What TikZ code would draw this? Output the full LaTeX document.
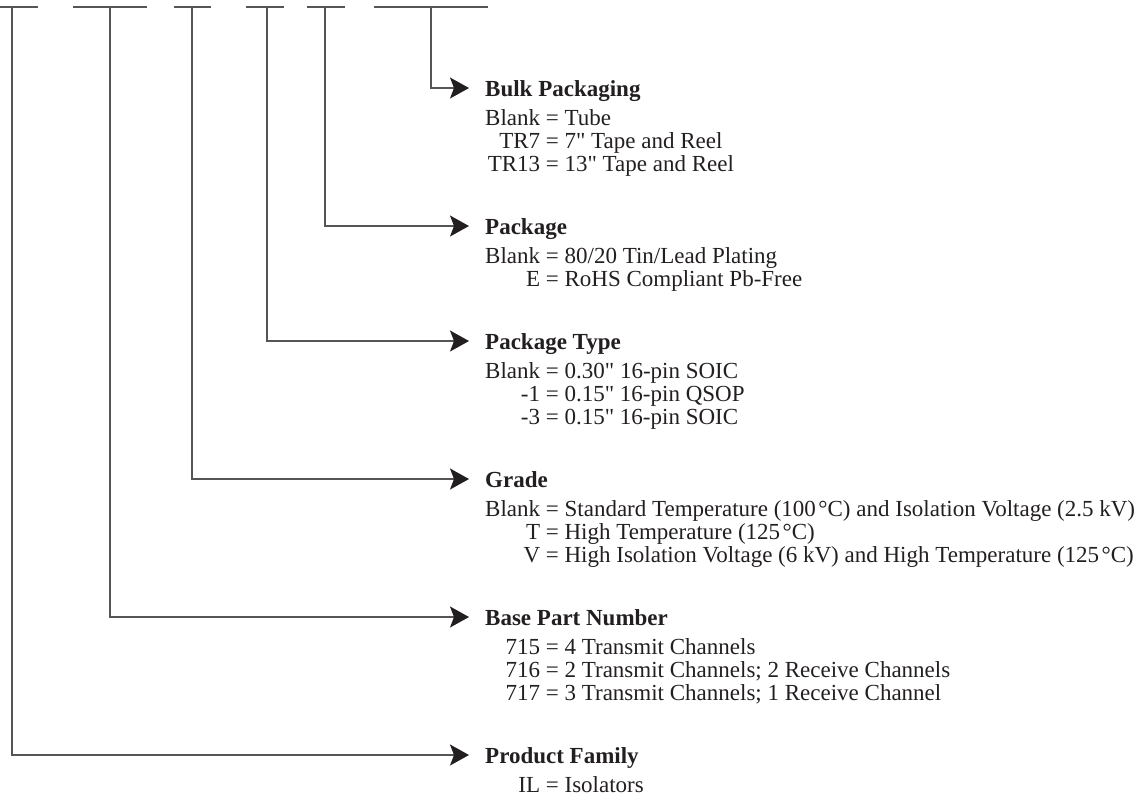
\documentclass[tikz,border=0pt]{standalone}
\usepackage{fontspec}
\setmainfont{Liberation Serif}
\usetikzlibrary{arrows.meta}
\definecolor{ink}{RGB}{35,31,32}
\definecolor{wire}{RGB}{85,85,85}
\newcommand\entry[2]{\hphantom{Blank}\llap{#1} = #2}
\newcommand\inch{\XeTeXglyph\XeTeXcharglyph"22\relax}
\newcommand\degC{\kern2.5pt°C}
\begin{document}
\begin{tikzpicture}[x=1pt,y=-1pt,
  conn/.style={draw=wire,line width=1.2pt,-{Stealth[length=19pt,width=21pt,inset=4pt,color=ink]}},
  bar/.style={draw=wire,line width=1.2pt},
  title/.style={anchor=base west,inner sep=0pt,text=ink,font=\fontsize{23}{23}\selectfont\bfseries},
  txt/.style={anchor=base west,inner sep=0pt,text=ink,font=\fontsize{23}{23}\selectfont}]
\useasboundingbox (0,0) rectangle (1147,796);
% top bars
\coordinate (b1l) at (0,7);   \coordinate (b1r) at (38,7);
\coordinate (b2l) at (73,7);  \coordinate (b2r) at (147,7);
\coordinate (b3l) at (174,7); \coordinate (b3r) at (211,7);
\coordinate (b4l) at (246,7); \coordinate (b4r) at (284,7);
\coordinate (b5l) at (307,7); \coordinate (b5r) at (345,7);
\coordinate (b6l) at (374,7); \coordinate (b6r) at (488,7);
\foreach \i in {1,...,6} {\draw[bar] (b\i l) -- (b\i r);}
\coordinate (v1) at (12,7);
\coordinate (v2) at (110,7);
\coordinate (v3) at (192,7);
\coordinate (v4) at (267,7);
\coordinate (v5) at (325,7);
\coordinate (v6) at (431,7);
% arrow tips
\coordinate (a6) at (469,88);
\coordinate (a5) at (469,226);
\coordinate (a4) at (469,341);
\coordinate (a3) at (469,479);
\coordinate (a2) at (469,617);
\coordinate (a1) at (469,755);
% groups
\node[title] (bulk) at (485,96) {Bulk Packaging};
\node[txt] (bulk1) at (485,125) {\entry{Blank}{Tube}};
\node[txt] (bulk2) at (485,148) {\entry{TR7}{7\inch{} Tape and Reel}};
\node[txt] (bulk3) at (485,171) {\entry{TR13}{13\inch{} Tape and Reel}};

\node[title] (pkg) at (485,234) {Package};
\node[txt] (pkg1) at (485,263) {\entry{Blank}{80/20 Tin/Lead Plating}};
\node[txt] (pkg2) at (485,286) {\entry{E}{RoHS Compliant Pb-Free}};

\node[title] (ptype) at (485,349) {Package Type};
\node[txt] (ptype1) at (485,378) {\entry{Blank}{0.30\inch{} 16-pin SOIC}};
\node[txt] (ptype2) at (485,401) {\entry{-1}{0.15\inch{} 16-pin QSOP}};
\node[txt] (ptype3) at (485,424) {\entry{-3}{0.15\inch{} 16-pin SOIC}};

\node[title] (grade) at (485,487) {Grade};
\node[txt] (grade1) at (485,516) {\entry{Blank}{Standard Temperature (100\degC) and Isolation Voltage (2.5 kV)}};
\node[txt] (grade2) at (485,539) {\entry{T}{High Temperature (125\degC)}};
\node[txt] (grade3) at (485,562) {\entry{V}{High Isolation Voltage (6 kV) and High Temperature (125\degC)}};

\node[title] (base) at (485,625) {Base Part Number};
\node[txt] (base1) at (485,654) {\entry{715}{4 Transmit Channels}};
\node[txt] (base2) at (485,677) {\entry{716}{2 Transmit Channels; 2 Receive Channels}};
\node[txt] (base3) at (485,700) {\entry{717}{3 Transmit Channels; 1 Receive Channel}};

\node[title] (fam) at (485,763) {Product Family};
\node[txt] (fam1) at (485,792) {\entry{IL}{Isolators}};
% connectors
\draw[conn] (v6) |- (a6);
\draw[conn] (v5) |- (a5);
\draw[conn] (v4) |- (a4);
\draw[conn] (v3) |- (a3);
\draw[conn] (v2) |- (a2);
\draw[conn] (v1) |- (a1);
\end{tikzpicture}
\end{document}
